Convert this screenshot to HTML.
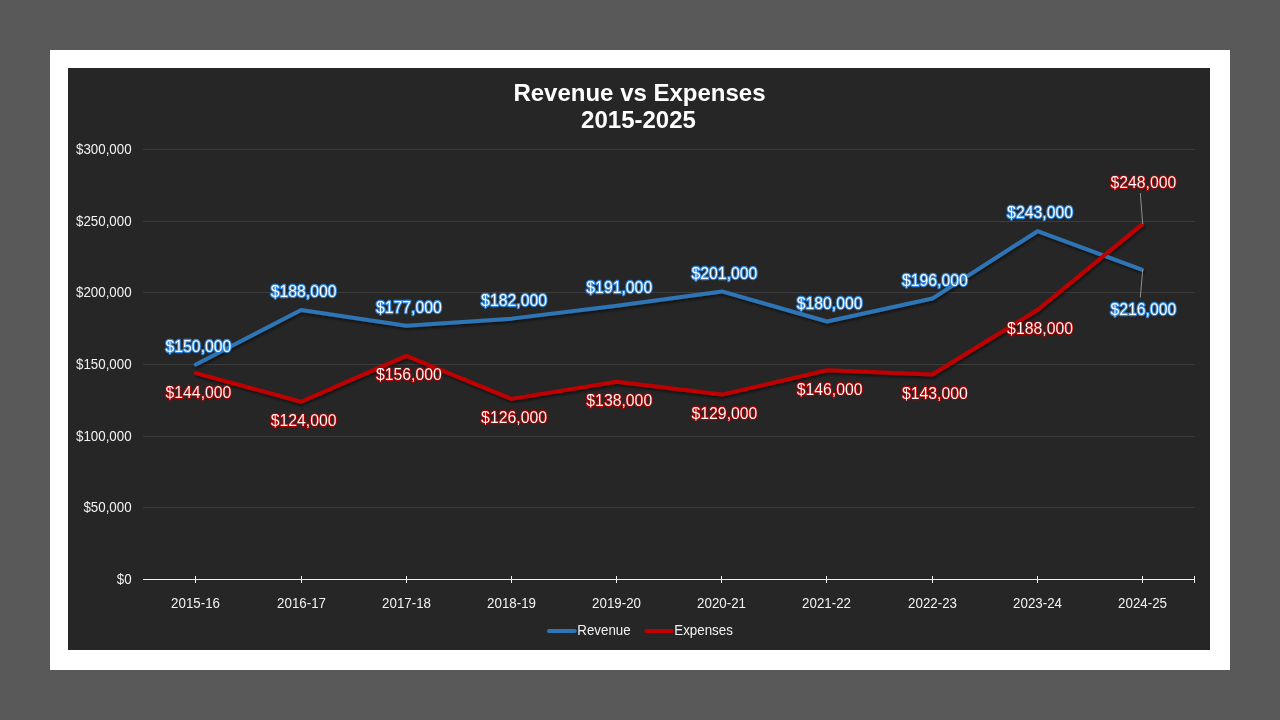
<!DOCTYPE html><html><head><meta charset="utf-8"><title>Revenue vs Expenses</title><style>
html,body{margin:0;padding:0;background:#595959;width:1280px;height:720px;overflow:hidden}
svg{display:block;position:absolute;left:0;top:0;will-change:transform}
text{font-family:"Liberation Sans",sans-serif}
.ax{font-size:13.33px;letter-spacing:0px;fill:#F2F2F2}
.ttl{font-size:24px;font-weight:bold;fill:#fff;text-anchor:middle}
.dl{font-size:16px;fill:#fff;text-anchor:middle;paint-order:stroke;stroke-linejoin:round}
</style></head><body>
<svg width="1280" height="720" viewBox="0 0 1280 720">
<defs><filter id="sh" x="-5%" y="-20%" width="110%" height="140%"><feGaussianBlur in="SourceAlpha" stdDeviation="1.4"/><feOffset dx="0.5" dy="1.8" result="b"/><feComponentTransfer><feFuncA type="linear" slope="0.55"/></feComponentTransfer><feMerge><feMergeNode/><feMergeNode in="SourceGraphic"/></feMerge></filter>
<filter id="gl" x="-10%" y="-30%" width="120%" height="160%"><feGaussianBlur stdDeviation="0.4"/></filter></defs>
<rect x="0" y="0" width="1280" height="720" fill="#595959"/>
<rect x="50" y="50" width="1180" height="620" fill="#ffffff"/>
<rect x="68" y="68" width="1142" height="582" fill="#262626"/>
<text class="ttl" x="639.5" y="100.5">Revenue vs Expenses</text>
<text class="ttl" x="638.5" y="127.5">2015-2025</text>
<rect x="143" y="149" width="1052" height="1" fill="#3C3C3C"/>
<rect x="143" y="221" width="1052" height="1" fill="#3C3C3C"/>
<rect x="143" y="292" width="1052" height="1" fill="#3C3C3C"/>
<rect x="143" y="364" width="1052" height="1" fill="#3C3C3C"/>
<rect x="143" y="436" width="1052" height="1" fill="#3C3C3C"/>
<rect x="143" y="507" width="1052" height="1" fill="#3C3C3C"/>
<rect x="143" y="579" width="1052" height="1" fill="#F2F2F2"/>
<rect x="195" y="576" width="1" height="7" fill="#F2F2F2"/>
<rect x="301" y="576" width="1" height="7" fill="#F2F2F2"/>
<rect x="406" y="576" width="1" height="7" fill="#F2F2F2"/>
<rect x="511" y="576" width="1" height="7" fill="#F2F2F2"/>
<rect x="616" y="576" width="1" height="7" fill="#F2F2F2"/>
<rect x="721" y="576" width="1" height="7" fill="#F2F2F2"/>
<rect x="826" y="576" width="1" height="7" fill="#F2F2F2"/>
<rect x="932" y="576" width="1" height="7" fill="#F2F2F2"/>
<rect x="1037" y="576" width="1" height="7" fill="#F2F2F2"/>
<rect x="1142" y="576" width="1" height="7" fill="#F2F2F2"/>
<rect x="1194" y="576" width="1" height="7" fill="#F2F2F2"/>
<text class="ax" text-anchor="end" transform="translate(131.6 154.0) scale(1 1.07)">$300,000</text>
<text class="ax" text-anchor="end" transform="translate(131.6 226.0) scale(1 1.07)">$250,000</text>
<text class="ax" text-anchor="end" transform="translate(131.6 297.0) scale(1 1.07)">$200,000</text>
<text class="ax" text-anchor="end" transform="translate(131.6 369.0) scale(1 1.07)">$150,000</text>
<text class="ax" text-anchor="end" transform="translate(131.6 441.0) scale(1 1.07)">$100,000</text>
<text class="ax" text-anchor="end" transform="translate(131.6 512.0) scale(1 1.07)">$50,000</text>
<text class="ax" text-anchor="end" transform="translate(131.6 584.0) scale(1 1.07)">$0</text>
<text class="ax" text-anchor="middle" transform="translate(195.5 608.3) scale(1 1.07)">2015-16</text>
<text class="ax" text-anchor="middle" transform="translate(301.5 608.3) scale(1 1.07)">2016-17</text>
<text class="ax" text-anchor="middle" transform="translate(406.5 608.3) scale(1 1.07)">2017-18</text>
<text class="ax" text-anchor="middle" transform="translate(511.5 608.3) scale(1 1.07)">2018-19</text>
<text class="ax" text-anchor="middle" transform="translate(616.5 608.3) scale(1 1.07)">2019-20</text>
<text class="ax" text-anchor="middle" transform="translate(721.5 608.3) scale(1 1.07)">2020-21</text>
<text class="ax" text-anchor="middle" transform="translate(826.5 608.3) scale(1 1.07)">2021-22</text>
<text class="ax" text-anchor="middle" transform="translate(932.5 608.3) scale(1 1.07)">2022-23</text>
<text class="ax" text-anchor="middle" transform="translate(1037.5 608.3) scale(1 1.07)">2023-24</text>
<text class="ax" text-anchor="middle" transform="translate(1142.5 608.3) scale(1 1.07)">2024-25</text>
<g filter="url(#sh)" fill="none" stroke-width="4.0" stroke-linecap="round" stroke-linejoin="round">
<polyline points="195.90,364.50 301.10,310.03 406.30,325.80 511.50,318.63 616.70,305.73 721.90,291.40 827.10,321.50 932.30,298.57 1037.50,231.20 1141.86,269.59" stroke="#2E75B6"/>
<polyline points="195.90,373.10 301.10,401.77 406.30,355.90 511.50,398.90 616.70,381.70 721.90,394.60 827.10,370.23 932.30,374.53 1037.50,310.03 1142.00,224.60" stroke="#C00000"/>
</g>
<path d="M1140.3 193 L1142.7 224" stroke="#9A9A9A" stroke-width="0.9" fill="none"/>
<path d="M1142.7 269.9 L1140.3 297.5" stroke="#9A9A9A" stroke-width="0.9" fill="none"/>
<text class="dl" transform="translate(198.45 351.50) scale(0.987 1.04)" stroke="#2E86DE" style="fill:#2E86DE" stroke-width="2.2" filter="url(#gl)">$150,000</text><text class="dl" transform="translate(198.45 351.50) scale(0.987 1.04)" stroke="#2E86DE" stroke-width="0.08" style="paint-order:normal">$150,000</text>
<text class="dl" transform="translate(303.65 297.43) scale(0.987 1.04)" stroke="#2E86DE" style="fill:#2E86DE" stroke-width="2.2" filter="url(#gl)">$188,000</text><text class="dl" transform="translate(303.65 297.43) scale(0.987 1.04)" stroke="#2E86DE" stroke-width="0.08" style="paint-order:normal">$188,000</text>
<text class="dl" transform="translate(408.85 313.20) scale(0.987 1.04)" stroke="#2E86DE" style="fill:#2E86DE" stroke-width="2.2" filter="url(#gl)">$177,000</text><text class="dl" transform="translate(408.85 313.20) scale(0.987 1.04)" stroke="#2E86DE" stroke-width="0.08" style="paint-order:normal">$177,000</text>
<text class="dl" transform="translate(514.05 306.03) scale(0.987 1.04)" stroke="#2E86DE" style="fill:#2E86DE" stroke-width="2.2" filter="url(#gl)">$182,000</text><text class="dl" transform="translate(514.05 306.03) scale(0.987 1.04)" stroke="#2E86DE" stroke-width="0.08" style="paint-order:normal">$182,000</text>
<text class="dl" transform="translate(619.25 293.13) scale(0.987 1.04)" stroke="#2E86DE" style="fill:#2E86DE" stroke-width="2.2" filter="url(#gl)">$191,000</text><text class="dl" transform="translate(619.25 293.13) scale(0.987 1.04)" stroke="#2E86DE" stroke-width="0.08" style="paint-order:normal">$191,000</text>
<text class="dl" transform="translate(724.45 278.80) scale(0.987 1.04)" stroke="#2E86DE" style="fill:#2E86DE" stroke-width="2.2" filter="url(#gl)">$201,000</text><text class="dl" transform="translate(724.45 278.80) scale(0.987 1.04)" stroke="#2E86DE" stroke-width="0.08" style="paint-order:normal">$201,000</text>
<text class="dl" transform="translate(829.65 308.90) scale(0.987 1.04)" stroke="#2E86DE" style="fill:#2E86DE" stroke-width="2.2" filter="url(#gl)">$180,000</text><text class="dl" transform="translate(829.65 308.90) scale(0.987 1.04)" stroke="#2E86DE" stroke-width="0.08" style="paint-order:normal">$180,000</text>
<text class="dl" transform="translate(934.85 285.97) scale(0.987 1.04)" stroke="#2E86DE" style="fill:#2E86DE" stroke-width="2.2" filter="url(#gl)">$196,000</text><text class="dl" transform="translate(934.85 285.97) scale(0.987 1.04)" stroke="#2E86DE" stroke-width="0.08" style="paint-order:normal">$196,000</text>
<text class="dl" transform="translate(1040.05 217.75) scale(0.987 1.04)" stroke="#2E86DE" style="fill:#2E86DE" stroke-width="2.2" filter="url(#gl)">$243,000</text><text class="dl" transform="translate(1040.05 217.75) scale(0.987 1.04)" stroke="#2E86DE" stroke-width="0.08" style="paint-order:normal">$243,000</text>
<text class="dl" transform="translate(1143.40 315.00) scale(0.987 1.04)" stroke="#2E86DE" style="fill:#2E86DE" stroke-width="2.2" filter="url(#gl)">$216,000</text><text class="dl" transform="translate(1143.40 315.00) scale(0.987 1.04)" stroke="#2E86DE" stroke-width="0.08" style="paint-order:normal">$216,000</text>
<text class="dl" transform="translate(198.45 397.70) scale(0.987 1.04)" stroke="#A60000" style="fill:#A60000" stroke-width="2.2" filter="url(#gl)">$144,000</text><text class="dl" transform="translate(198.45 397.70) scale(0.987 1.04)" stroke="#A60000" stroke-width="0.08" style="paint-order:normal">$144,000</text>
<text class="dl" transform="translate(303.65 426.37) scale(0.987 1.04)" stroke="#A60000" style="fill:#A60000" stroke-width="2.2" filter="url(#gl)">$124,000</text><text class="dl" transform="translate(303.65 426.37) scale(0.987 1.04)" stroke="#A60000" stroke-width="0.08" style="paint-order:normal">$124,000</text>
<text class="dl" transform="translate(408.85 379.80) scale(0.987 1.04)" stroke="#A60000" style="fill:#A60000" stroke-width="2.2" filter="url(#gl)">$156,000</text><text class="dl" transform="translate(408.85 379.80) scale(0.987 1.04)" stroke="#A60000" stroke-width="0.08" style="paint-order:normal">$156,000</text>
<text class="dl" transform="translate(514.05 423.00) scale(0.987 1.04)" stroke="#A60000" style="fill:#A60000" stroke-width="2.2" filter="url(#gl)">$126,000</text><text class="dl" transform="translate(514.05 423.00) scale(0.987 1.04)" stroke="#A60000" stroke-width="0.08" style="paint-order:normal">$126,000</text>
<text class="dl" transform="translate(619.25 406.30) scale(0.987 1.04)" stroke="#A60000" style="fill:#A60000" stroke-width="2.2" filter="url(#gl)">$138,000</text><text class="dl" transform="translate(619.25 406.30) scale(0.987 1.04)" stroke="#A60000" stroke-width="0.08" style="paint-order:normal">$138,000</text>
<text class="dl" transform="translate(724.45 419.20) scale(0.987 1.04)" stroke="#A60000" style="fill:#A60000" stroke-width="2.2" filter="url(#gl)">$129,000</text><text class="dl" transform="translate(724.45 419.20) scale(0.987 1.04)" stroke="#A60000" stroke-width="0.08" style="paint-order:normal">$129,000</text>
<text class="dl" transform="translate(829.65 394.83) scale(0.987 1.04)" stroke="#A60000" style="fill:#A60000" stroke-width="2.2" filter="url(#gl)">$146,000</text><text class="dl" transform="translate(829.65 394.83) scale(0.987 1.04)" stroke="#A60000" stroke-width="0.08" style="paint-order:normal">$146,000</text>
<text class="dl" transform="translate(934.85 399.13) scale(0.987 1.04)" stroke="#A60000" style="fill:#A60000" stroke-width="2.2" filter="url(#gl)">$143,000</text><text class="dl" transform="translate(934.85 399.13) scale(0.987 1.04)" stroke="#A60000" stroke-width="0.08" style="paint-order:normal">$143,000</text>
<text class="dl" transform="translate(1040.05 333.78) scale(0.987 1.04)" stroke="#A60000" style="fill:#A60000" stroke-width="2.2" filter="url(#gl)">$188,000</text><text class="dl" transform="translate(1040.05 333.78) scale(0.987 1.04)" stroke="#A60000" stroke-width="0.08" style="paint-order:normal">$188,000</text>
<text class="dl" transform="translate(1143.40 188.00) scale(0.987 1.04)" stroke="#A60000" style="fill:#A60000" stroke-width="2.2" filter="url(#gl)">$248,000</text><text class="dl" transform="translate(1143.40 188.00) scale(0.987 1.04)" stroke="#A60000" stroke-width="0.08" style="paint-order:normal">$248,000</text>
<g fill="none" stroke-width="4" stroke-linecap="round"><path d="M548.9 631 H574.8" stroke="#2E75B6"/><path d="M646.3 631 H671.7" stroke="#C00000"/></g>
<text class="ax" transform="translate(577.3 635.2) scale(1 1.07)">Revenue</text>
<text class="ax" transform="translate(674.3 635.2) scale(1 1.07)">Expenses</text>
</svg></body></html>
